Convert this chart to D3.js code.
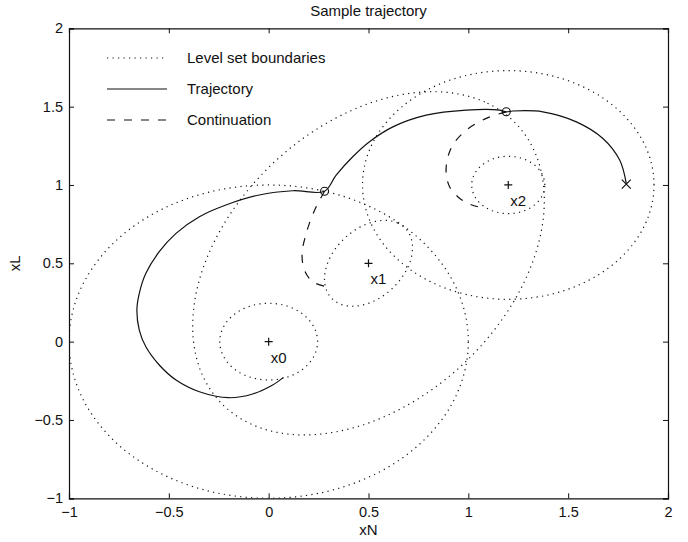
<!DOCTYPE html>
<html>
<head>
<meta charset="utf-8">
<script src="https://cdn.jsdelivr.net/npm/d3@7"></script>
<style>
    html, body { margin: 0; padding: 0; background: #ffffff; }
    svg { display: block; }
    text { font-family: "Liberation Sans", Arial, Helvetica, sans-serif; fill: #111111; }
</style>
</head>
<body>
<svg></svg>
<script>
const width = 688;
const height = 542;

const xTicks = [-1, -0.5, 0, 0.5, 1, 1.5, 2];
const yTicks = [-1, -0.5, 0, 0.5, 1, 1.5, 2];

// equilibrium points and their labels
const equilibria = [[0, 0], [0.5, 0.5], [1.2, 1.0]];
const equilibriumLabels = ["x0", "x1", "x2"];

// level set boundaries: [cx, cy, semi-major, semi-minor, angle in degrees]
const levelSets = [
    [0, 0, 0.245, 0.245, 0],
    [0, 0, 1.0, 1.0, 0],
    [0.5, 0.5, 0.296, 0.19, 60.5],
    [0.5, 0.5, 1.183, 0.759, 60.5],
    [1.2, 1.0, 0.183, 0.183, 0],
    [1.2, 1.0, 0.73, 0.73, 0],
];

// solid trajectory: start at the cross, through both switching points
const trajectory = [
    [1.791, 1.01], [1.758, 1.159], [1.674, 1.297], [1.541, 1.403], [1.373, 1.467],
    [1.223, 1.472], [1.19, 1.467], [1.156, 1.478], [0.99, 1.478], [0.789, 1.446],
    [0.622, 1.371], [0.505, 1.276], [0.421, 1.18], [0.338, 1.063], [0.28, 0.96],
    [0.12, 0.963], [-0.047, 0.936], [-0.214, 0.872], [-0.347, 0.797], [-0.464, 0.691],
    [-0.548, 0.574], [-0.615, 0.436], [-0.648, 0.308], [-0.66, 0.202], [-0.648, 0.074],
    [-0.615, -0.033], [-0.548, -0.149], [-0.464, -0.245], [-0.347, -0.32],
    [-0.2, -0.358], [-0.08, -0.334], [0.02, -0.277], [0.074, -0.228],
];

// dashed continuations from the two switching points
const continuation1 = [
    [0.28, 0.96], [0.238, 0.861], [0.204, 0.755], [0.179, 0.648], [0.167, 0.563],
    [0.179, 0.457], [0.221, 0.382], [0.29, 0.35],
];
const continuation2 = [
    [1.19, 1.467], [1.09, 1.425], [0.99, 1.35], [0.922, 1.255], [0.894, 1.159],
    [0.889, 1.074], [0.906, 0.989], [0.947, 0.925], [0.997, 0.883], [1.048, 0.861],
];

const switchPoints = [[0.28, 0.96], [1.19, 1.467]];
const startPoint = [1.791, 1.005];

const legendItems = ["Level set boundaries", "Trajectory", "Continuation"];
const legendDashes = ["1.2,4.3", null, "8,9"];

const margin = { left: 69, right: 20, top: 28.3, bottom: 43.7 };
const plotW = width - margin.left - margin.right;
const plotH = height - margin.top - margin.bottom;

const x = d3.scaleLinear().domain([-1, 2]).range([margin.left, margin.left + plotW]);
const y = d3.scaleLinear().domain([-1, 2]).range([margin.top + plotH, margin.top]);

const svg = d3.select("svg")
    .attr("width", width)
    .attr("height", height)
    .attr("viewBox", [0, 0, width, height]);

svg.append("defs").append("clipPath")
    .attr("id", "plot-clip")
    .append("rect")
    .attr("x", margin.left)
    .attr("y", margin.top)
    .attr("width", plotW)
    .attr("height", plotH);

const fmt = d => d3.format("")(d).replace("-", "\u2212");

// axes with inward ticks on all four sides
svg.append("g")
    .attr("transform", `translate(0,${margin.top + plotH})`)
    .call(d3.axisBottom(x).tickValues(xTicks).tickFormat(fmt).tickSize(-5).tickPadding(8));
svg.append("g")
    .attr("transform", `translate(${margin.left},0)`)
    .call(d3.axisLeft(y).tickValues(yTicks).tickFormat(fmt).tickSize(-5).tickPadding(6));
svg.append("g")
    .attr("transform", `translate(0,${margin.top})`)
    .call(d3.axisTop(x).tickValues(xTicks).tickFormat("").tickSize(-5));
svg.append("g")
    .attr("transform", `translate(${margin.left + plotW},0)`)
    .call(d3.axisRight(y).tickValues(yTicks).tickFormat("").tickSize(-5));

svg.selectAll(".domain").attr("stroke", "#111").attr("stroke-width", 1.2);
svg.selectAll(".tick line").attr("stroke", "#111");
svg.selectAll(".tick text")
    .style("font-size", "14.5px")
    .attr("fill", "#111");

const plot = svg.append("g").attr("clip-path", "url(#plot-clip)");

// level set boundaries drawn from their ellipse parameters
function ellipsePoints([cx, cy, a, b, angle]) {
    const th = angle * Math.PI / 180;
    return d3.range(0, 361, 2).map(deg => {
        const t = deg * Math.PI / 180;
        const u = a * Math.cos(t);
        const v = b * Math.sin(t);
        return [cx + u * Math.cos(th) - v * Math.sin(th), cy + u * Math.sin(th) + v * Math.cos(th)];
    });
}

const line = d3.line().x(d => x(d[0])).y(d => y(d[1]));
const smooth = d3.line().x(d => x(d[0])).y(d => y(d[1])).curve(d3.curveCatmullRom);

plot.selectAll("path.level")
    .data(levelSets)
    .join("path")
    .attr("class", "level")
    .attr("d", d => line(ellipsePoints(d)))
    .attr("fill", "none")
    .attr("stroke", "#111")
    .attr("stroke-width", 1.2)
    .attr("stroke-dasharray", legendDashes[0]);

plot.append("path")
    .attr("d", smooth(trajectory))
    .attr("fill", "none")
    .attr("stroke", "#111")
    .attr("stroke-width", 1.2);

plot.selectAll("path.cont")
    .data([continuation1, continuation2])
    .join("path")
    .attr("class", "cont")
    .attr("d", d => smooth(d))
    .attr("fill", "none")
    .attr("stroke", "#111")
    .attr("stroke-width", 1.2)
    .attr("stroke-dasharray", legendDashes[2]);

// switching points
plot.selectAll("circle.switch")
    .data(switchPoints)
    .join("circle")
    .attr("class", "switch")
    .attr("cx", d => x(d[0]))
    .attr("cy", d => y(d[1]))
    .attr("r", 4)
    .attr("fill", "none")
    .attr("stroke", "#111")
    .attr("stroke-width", 1.1);

// start cross
const s = 4.5;
plot.append("path")
    .attr("d", `M${x(startPoint[0]) - s},${y(startPoint[1]) - s}L${x(startPoint[0]) + s},${y(startPoint[1]) + s}` +
        `M${x(startPoint[0]) - s},${y(startPoint[1]) + s}L${x(startPoint[0]) + s},${y(startPoint[1]) - s}`)
    .attr("stroke", "#111")
    .attr("stroke-width", 1.2);

// equilibria
const eq = plot.selectAll("g.eq")
    .data(equilibria)
    .join("g")
    .attr("class", "eq")
    .attr("transform", d => `translate(${x(d[0])},${y(d[1])})`);
eq.append("path")
    .attr("d", "M-4,0H4M0,-4V4")
    .attr("stroke", "#111")
    .attr("stroke-width", 1.2);
eq.append("text")
    .attr("x", 2)
    .attr("y", 21)
    .style("font-size", "15px")
    .text((d, i) => equilibriumLabels[i]);

// legend
const legend = svg.append("g");
legendItems.forEach((label, i) => {
    const ly = 58 + i * 31;
    legend.append("line")
        .attr("x1", 107).attr("x2", 167)
        .attr("y1", ly).attr("y2", ly)
        .attr("stroke", "#111")
        .attr("stroke-width", 1.2)
        .attr("stroke-dasharray", legendDashes[i]);
    legend.append("text")
        .attr("x", 187)
        .attr("y", ly)
        .attr("dy", "0.36em")
        .style("font-size", "15px")
        .text(label);
});

// title and axis labels
svg.append("text")
    .attr("x", margin.left + plotW / 2)
    .attr("y", 16)
    .attr("text-anchor", "middle")
    .style("font-size", "15px")
    .text("Sample trajectory");
svg.append("text")
    .attr("x", margin.left + plotW / 2)
    .attr("y", 535)
    .attr("text-anchor", "middle")
    .style("font-size", "15px")
    .text("xN");
svg.append("text")
    .attr("transform", `translate(20,${margin.top + plotH / 2}) rotate(-90)`)
    .attr("text-anchor", "middle")
    .style("font-size", "15px")
    .text("xL");
</script>
</body>
</html>
